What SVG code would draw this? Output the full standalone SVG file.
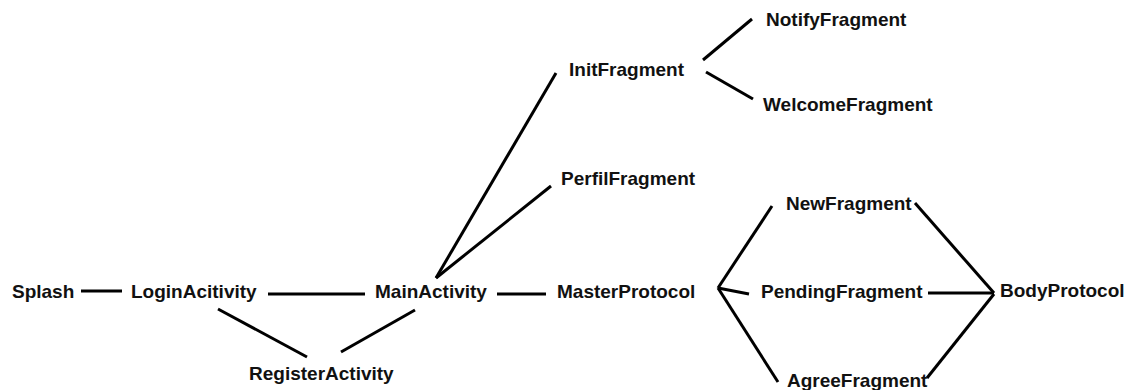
<svg xmlns="http://www.w3.org/2000/svg" width="1131" height="390" viewBox="0 0 1131 390">
<style>
text{font-family:"Liberation Sans",Arial,sans-serif;font-weight:bold;font-size:19px;fill:#111}
.c line{stroke:#000;stroke-width:3;stroke-linecap:butt}
</style>
<rect width="1131" height="390" fill="#fff"/>
<g class="c" id="connectors">
<line x1="81" y1="291" x2="122" y2="291"/>
<line x1="268" y1="294" x2="365" y2="294"/>
<line x1="218" y1="309" x2="307" y2="357"/>
<line x1="415" y1="310" x2="341" y2="352"/>
<line x1="497" y1="294" x2="546" y2="294"/>
<line x1="436" y1="278" x2="551" y2="186"/>
<line x1="436" y1="278" x2="556" y2="73"/>
<line x1="703" y1="60" x2="752" y2="19"/>
<line x1="706" y1="72" x2="753" y2="99"/>
<line x1="718" y1="288" x2="772" y2="206"/>
<line x1="718" y1="288" x2="749" y2="294"/>
<line x1="718" y1="288" x2="778" y2="382"/>
<line x1="915" y1="203" x2="994" y2="293"/>
<line x1="928" y1="293" x2="994" y2="293"/>
<line x1="927" y1="378" x2="994" y2="294"/>
</g>
<g id="splash"><text x="12" y="298">Splash</text></g>
<g id="login"><text x="131" y="298">LoginAcitivity</text></g>
<g id="main"><text x="375" y="298">MainActivity</text></g>
<g id="register"><text x="249" y="380">RegisterActivity</text></g>
<g id="master"><text x="557" y="298">MasterProtocol</text></g>
<g id="perfil"><text x="561" y="185">PerfilFragment</text></g>
<g id="init"><text x="569" y="76">InitFragment</text></g>
<g id="notify"><text x="766" y="26">NotifyFragment</text></g>
<g id="welcome"><text x="763" y="111">WelcomeFragment</text></g>
<g id="new"><text x="786" y="210">NewFragment</text></g>
<g id="pending"><text x="761" y="298">PendingFragment</text></g>
<g id="agree"><text x="787" y="387">AgreeFragment</text></g>
<g id="body"><text x="1000" y="297">BodyProtocol</text></g>
</svg>
